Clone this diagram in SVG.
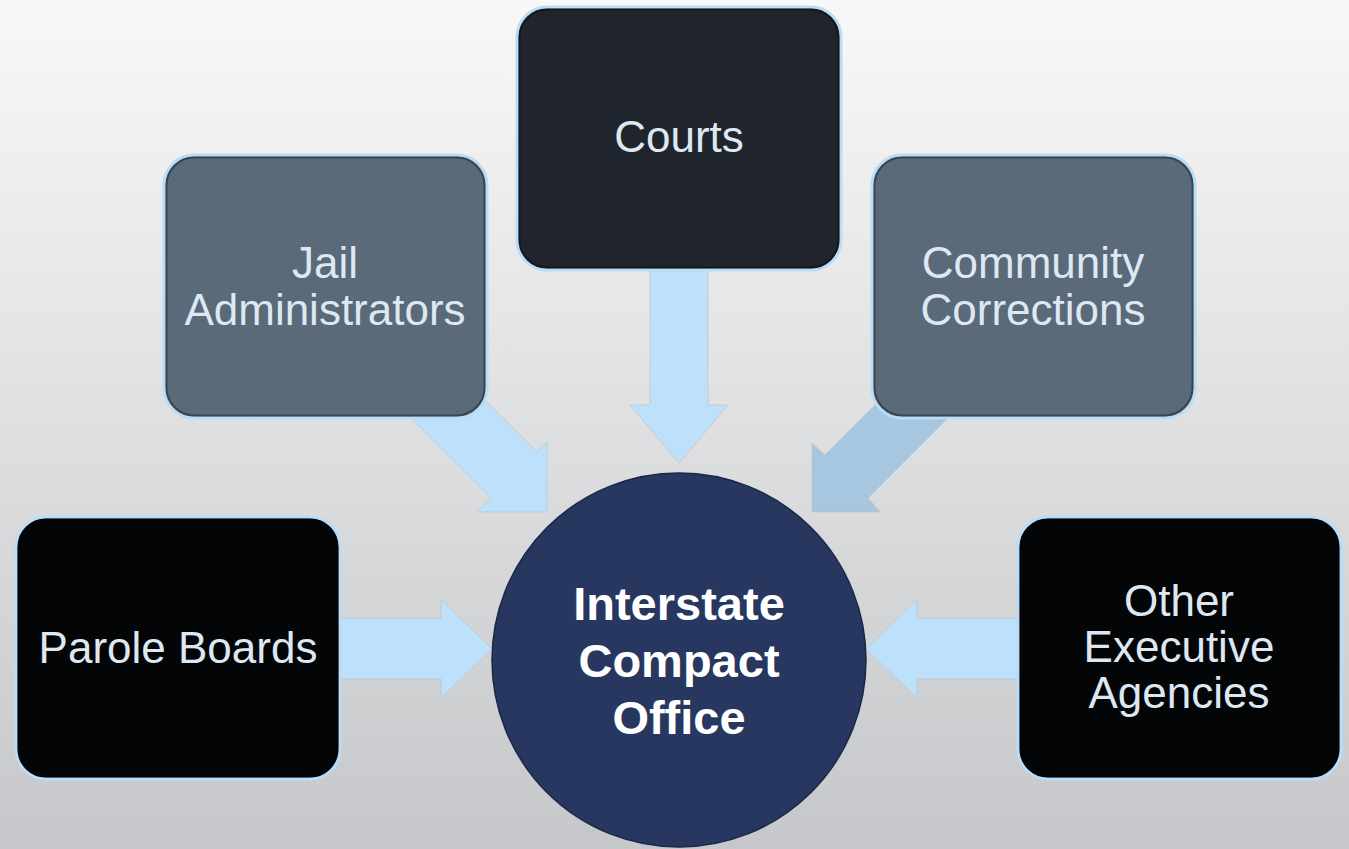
<svg xmlns="http://www.w3.org/2000/svg" width="1349" height="849" viewBox="0 0 1349 849">
<defs>
<linearGradient id="bg" x1="0" y1="0" x2="0" y2="1">
<stop offset="0" stop-color="#f8f8f8"/>
<stop offset="1" stop-color="#c6c7ca"/>
</linearGradient>
<style>
.box{stroke:#b9dcf7;stroke-width:3}
.inner{fill:none;stroke:#000;stroke-opacity:0.35;stroke-width:2}
.lbl{font-family:"Liberation Sans",Arial,sans-serif;font-size:44px;fill:#dde8f2;text-anchor:middle}
.ctr{font-family:"Liberation Sans",Arial,sans-serif;font-size:47px;font-weight:bold;fill:#ffffff;text-anchor:middle}
.arr{fill:#bde0fb;stroke:#b8bfc6;stroke-width:1;stroke-opacity:0.6}
.arr2{fill:#a7c7e0;stroke:#b8bfc6;stroke-width:1;stroke-opacity:0.6}
</style>
</defs>
<rect x="0" y="0" width="1349" height="849" fill="url(#bg)"/>
<g id="connectors">
<polygon class="arr" points="650,260 708,260 708,405 728,405 679,463 630,405 650,405"/>
<polygon class="arr" points="393,400 491,498 477,512 547,512 547,442 537,452 470,385"/>
<polygon class="arr2" points="890,390 825,455 812,443 812,512 880,512 868,498 966,400"/>
<polygon class="arr" points="330,618 441,618 441,599 492,649 441,698 441,679 330,679"/>
<polygon class="arr" points="1028,618 917,618 917,599 866,649 917,698 917,679 1028,679"/>
</g>
<g id="courts">
<rect class="box" x="517" y="7" width="324" height="263" rx="30" fill="#20252d"/>
<rect class="inner" x="519.5" y="9.5" width="319" height="258" rx="28"/>
<text class="lbl" x="679" y="152">Courts</text>
</g>
<g id="jail">
<rect class="box" x="164" y="155" width="323" height="263" rx="30" fill="#5a6a79"/>
<rect class="inner" x="166.5" y="157.5" width="318" height="258" rx="28"/>
<text class="lbl" x="325" y="278">Jail</text>
<text class="lbl" x="325" y="325">Administrators</text>
</g>
<g id="community">
<rect class="box" x="872" y="155" width="323" height="263" rx="30" fill="#5a6a79"/>
<rect class="inner" x="874.5" y="157.5" width="318" height="258" rx="28"/>
<text class="lbl" x="1033" y="278">Community</text>
<text class="lbl" x="1033" y="325">Corrections</text>
</g>
<g id="parole">
<rect class="box" x="16" y="517" width="324" height="262" rx="30" fill="#040507"/>
<rect class="inner" x="18.5" y="519.5" width="319" height="257" rx="28"/>
<text class="lbl" x="178" y="663">Parole Boards</text>
</g>
<g id="other">
<rect class="box" x="1018" y="517" width="323" height="262" rx="30" fill="#040507"/>
<rect class="inner" x="1020.5" y="519.5" width="318" height="257" rx="28"/>
<text class="lbl" x="1179" y="616">Other</text>
<text class="lbl" x="1179" y="662">Executive</text>
<text class="lbl" x="1179" y="708">Agencies</text>
</g>
<g id="office">
<circle cx="679" cy="660" r="187" fill="#27375f" stroke="#1c2848" stroke-width="1.5"/>
<text class="ctr" x="679" y="620">Interstate</text>
<text class="ctr" x="679" y="677">Compact</text>
<text class="ctr" x="679" y="734">Office</text>
</g>
</svg>
